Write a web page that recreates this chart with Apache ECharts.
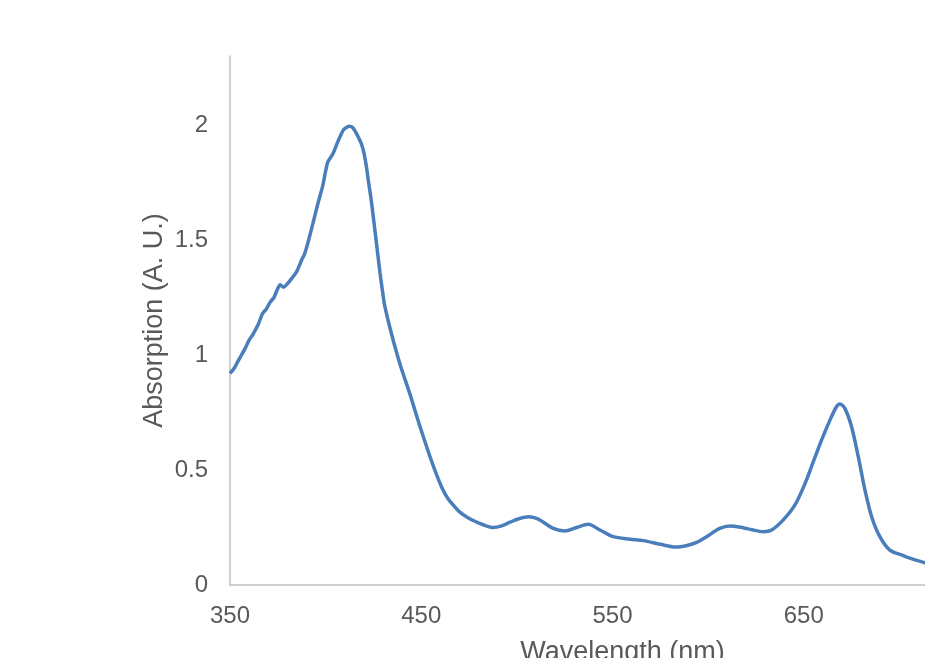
<!DOCTYPE html>
<html>
<head>
<meta charset="utf-8">
<script src="https://cdn.jsdelivr.net/npm/echarts@6/dist/echarts.min.js"></script>
<style>
html,body{margin:0;padding:0;background:#fff;overflow:hidden;}
#chart{width:925px;height:658px;}
</style>
</head>
<body>
<div id="chart"></div>
<script>
// Wavelength (nm)
const wavelengths = [350,352,354,356,358,360,362,364.6,367,369,371,373,374.5,376.3,378,380,382,384.7,387.3,389,390.8,393.3,396,398.6,400,401.2,403.8,406.5,409.4,411,412.5,414,416,418.6,420,421.3,422.3,423.9,425.8,428.4,429.7,431,434.5,438.9,444.1,449.3,454.5,458,461,464,467,470,474,478,482,487.7,492,496.4,501,506,509,512,519,525.1,531.2,537.3,543.4,550.4,559.1,566.1,575,583,589,594,599.2,606.1,611.4,618.3,623,628.8,633.2,639.3,645.4,650.7,655,659.3,663.7,667.1,668.9,671.5,675,678.5,682,685.5,689.8,695,702,708.2,713.4,720,730,740,750];
// Absorption (A. U.)
const absorption = [0.92,0.94,0.97,1.0,1.03,1.065,1.09,1.13,1.18,1.2,1.23,1.25,1.28,1.305,1.295,1.31,1.33,1.36,1.41,1.44,1.49,1.57,1.66,1.74,1.8,1.84,1.875,1.93,1.98,1.99,1.995,1.99,1.965,1.92,1.88,1.82,1.76,1.67,1.54,1.36,1.28,1.21,1.09,0.96,0.83,0.69,0.56,0.48,0.42,0.375,0.345,0.318,0.295,0.277,0.263,0.25,0.257,0.273,0.288,0.297,0.293,0.283,0.246,0.235,0.25,0.264,0.239,0.21,0.199,0.193,0.177,0.165,0.172,0.185,0.21,0.246,0.257,0.249,0.24,0.232,0.239,0.283,0.348,0.442,0.536,0.63,0.717,0.775,0.787,0.768,0.688,0.558,0.413,0.297,0.21,0.152,0.128,0.109,0.097,0.085,0.072,0.062,0.055];
const xTicks = [350,450,550,650,750];
const yTicks = [0,0.5,1,1.5,2];

const font = '"Liberation Sans", Arial, sans-serif';
const chart = echarts.init(document.getElementById('chart'), null, {renderer:'canvas'});
chart.setOption({
  animation:false,
  backgroundColor:'#ffffff',
  grid:{left:230, top:56, width:765, height:529, containLabel:false, outerBoundsMode:'none'},
  xAxis:{
    type:'value', min:xTicks[0], max:xTicks[xTicks.length-1], interval:100,
    name:'Wavelength (nm)', nameLocation:'middle', nameGap:54,
    nameTextStyle:{color:'#595959', fontSize:27, fontFamily:font, padding:[0,0,0,20]},
    axisLine:{show:true, lineStyle:{color:'#BFBFBF', width:1.5}},
    axisTick:{show:false},
    splitLine:{show:false},
    axisLabel:{color:'#595959', fontSize:24, fontFamily:font, margin:19,
      formatter:v=>xTicks.includes(v)?String(v):''}
  },
  yAxis:{
    type:'value', min:0, max:2.3, interval:0.5,
    name:'Absorption (A. U.)', nameLocation:'middle', nameGap:62, nameMoveOverlap:false,
    nameTextStyle:{color:'#595959', fontSize:27, fontFamily:font},
    axisLine:{show:true, lineStyle:{color:'#BFBFBF', width:1.5}},
    axisTick:{show:false},
    splitLine:{show:false},
    axisLabel:{color:'#595959', fontSize:24, fontFamily:font, margin:22,
      formatter:v=>yTicks.some(t=>Math.abs(t-v)<1e-9)?String(v):''}
  },
  series:[{
    type:'line',
    data:wavelengths.map((w,i)=>[w,absorption[i]]),
    showSymbol:false,
    smooth:0.3,
    lineStyle:{color:'#4A7EBB', width:3.5},
    clip:true
  }]
});
</script>
</body>
</html>
